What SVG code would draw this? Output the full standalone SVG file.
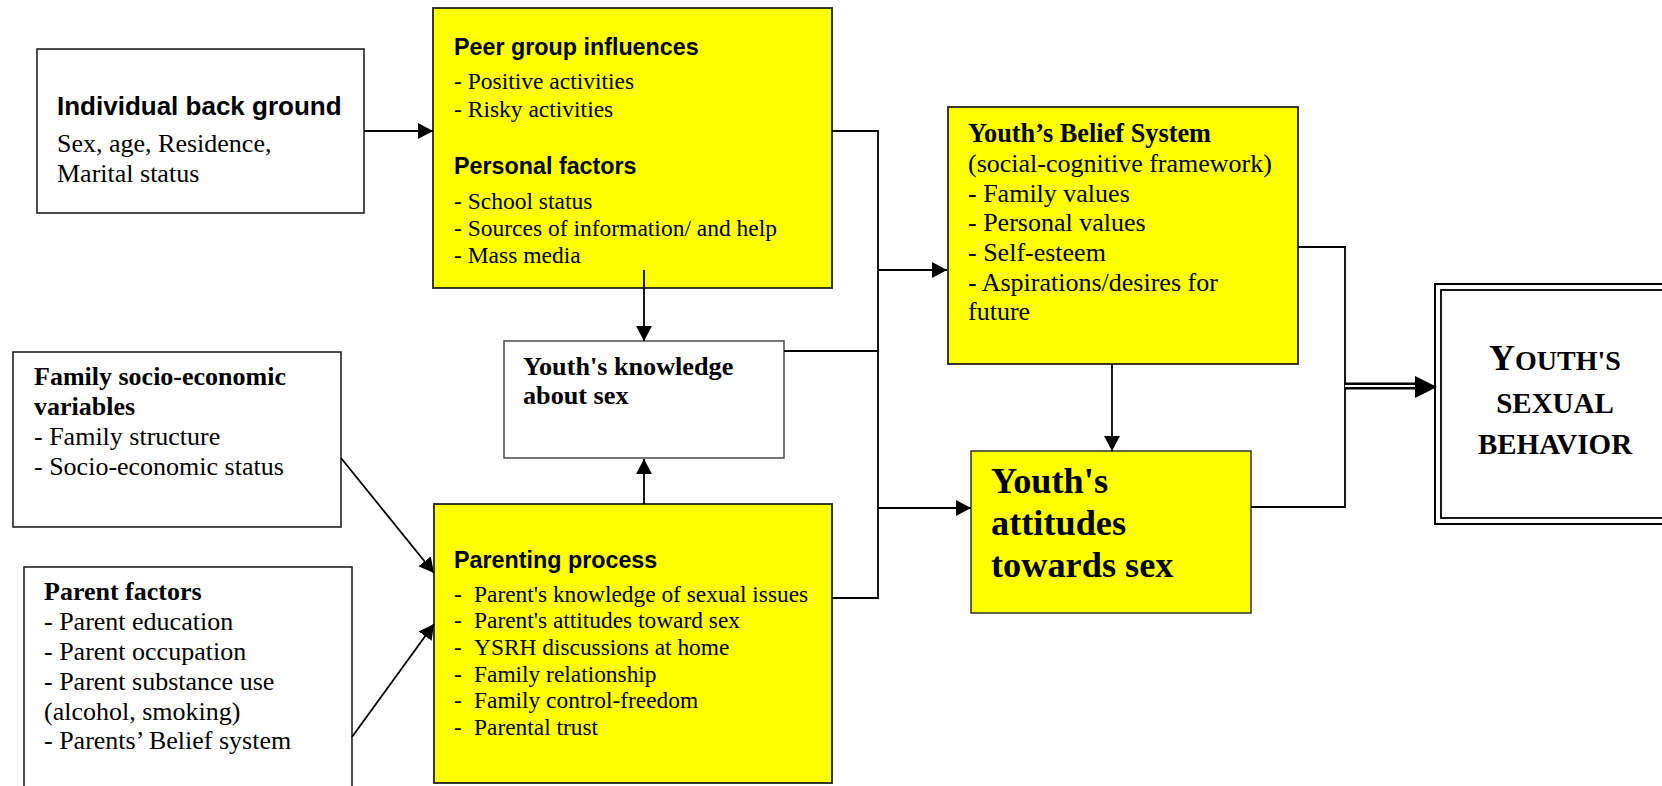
<svg xmlns="http://www.w3.org/2000/svg" width="1662" height="786" viewBox="0 0 1662 786">
<style>
.box{fill:#ffffff;stroke:#222;stroke-width:1.6}
.ybox{fill:#ffff00;stroke:#222;stroke-width:1.8}
.hs{font-family:"Liberation Sans",Arial,sans-serif;font-weight:bold;fill:#000}
.t{font-family:"Liberation Serif","Times New Roman",serif;fill:#000}
.b{font-weight:bold}
.ln{fill:none;stroke:#000;stroke-width:1.8}
</style>
<defs>
<marker id="ah" markerWidth="15" markerHeight="16" refX="15" refY="8" orient="auto" markerUnits="userSpaceOnUse">
<path d="M0,0 L15,8 L0,16 Z" fill="#000"/>
</marker>
</defs>
<rect width="1662" height="786" fill="#fff"/>

<g id="individual">
<rect class="box" x="37" y="49" width="327" height="164"/>
<text class="hs" x="57" y="115" font-size="26">Individual back ground</text>
<text class="t" x="57" y="152" font-size="26">Sex, age, Residence,</text>
<text class="t" x="57" y="182" font-size="26">Marital status</text>
</g>

<g id="peer">
<rect class="ybox" x="433" y="8" width="399" height="280"/>
<text class="hs" x="454" y="55" font-size="23.3">Peer group influences</text>
<text class="t" x="454" y="89" font-size="23.5">- Positive activities</text>
<text class="t" x="454" y="117" font-size="23.5">- Risky activities</text>
<text class="hs" x="454" y="174" font-size="23.3">Personal factors</text>
<text class="t" x="454" y="209" font-size="23.5">- School status</text>
<text class="t" x="454" y="236" font-size="23.5">- Sources of information/ and help</text>
<text class="t" x="454" y="263" font-size="23.5">- Mass media</text>
</g>

<g id="knowledge">
<rect class="box" x="504" y="341" width="280" height="117" style="stroke:#555"/>
<text class="t b" x="523" y="375" font-size="26.2">Youth's knowledge</text>
<text class="t b" x="523" y="404" font-size="26.2">about sex</text>
</g>

<g id="family">
<rect class="box" x="13" y="352" width="328" height="175"/>
<text class="t b" x="34" y="385" font-size="26">Family socio-economic</text>
<text class="t b" x="34" y="415" font-size="26">variables</text>
<text class="t" x="34" y="445" font-size="26">- Family structure</text>
<text class="t" x="34" y="475" font-size="26">- Socio-economic status</text>
</g>

<g id="parent">
<rect class="box" x="24" y="567" width="328" height="240"/>
<text class="t b" x="44" y="600" font-size="26">Parent factors</text>
<text class="t" x="44" y="630" font-size="26">- Parent education</text>
<text class="t" x="44" y="660" font-size="26">- Parent occupation</text>
<text class="t" x="44" y="690" font-size="26">- Parent substance use</text>
<text class="t" x="44" y="720" font-size="26">(alcohol, smoking)</text>
<text class="t" x="44" y="749" font-size="26">- Parents’ Belief system</text>
</g>

<g id="parenting">
<rect class="ybox" x="434" y="504" width="398" height="279"/>
<text class="hs" x="454" y="568" font-size="23.3">Parenting process</text>
<g class="t" font-size="23.4">
<text x="454" y="602">-</text><text x="474" y="602">Parent's knowledge of sexual issues</text>
<text x="454" y="628">-</text><text x="474" y="628">Parent's attitudes toward sex</text>
<text x="454" y="655">-</text><text x="474" y="655">YSRH discussions at home</text>
<text x="454" y="682">-</text><text x="474" y="682">Family relationship</text>
<text x="454" y="708">-</text><text x="474" y="708">Family control-freedom</text>
<text x="454" y="735">-</text><text x="474" y="735">Parental trust</text>
</g>
</g>

<g id="belief">
<rect class="ybox" x="948" y="107" width="350" height="257"/>
<text class="t b" x="968" y="142" font-size="26.3">Youth’s Belief System</text>
<text class="t" x="968" y="172" font-size="26">(social-cognitive framework)</text>
<text class="t" x="968" y="202" font-size="26">- Family values</text>
<text class="t" x="968" y="231" font-size="26">- Personal values</text>
<text class="t" x="968" y="261" font-size="26">- Self-esteem</text>
<text class="t" x="968" y="291" font-size="26">- Aspirations/desires for</text>
<text class="t" x="968" y="320" font-size="26">future</text>
</g>

<g id="attitudes">
<rect class="ybox" x="971" y="451" width="280" height="162" style="stroke-width:1.4"/>
<text class="t b" x="991" y="493" font-size="36.3">Youth's</text>
<text class="t b" x="991" y="535" font-size="36.3">attitudes</text>
<text class="t b" x="991" y="577" font-size="36.3">towards sex</text>
</g>

<g id="behavior">
<rect x="1435" y="284" width="260" height="240" fill="#fff" stroke="#000" stroke-width="2"/>
<rect x="1441" y="290" width="250" height="228" fill="none" stroke="#000" stroke-width="1.8"/>
<text class="t b" x="1555" y="370" font-size="28" text-anchor="middle"><tspan font-size="36">Y</tspan>OUTH'S</text>
<text class="t b" x="1555" y="413" font-size="29" text-anchor="middle">SEXUAL</text>
<text class="t b" x="1555" y="454" font-size="29" text-anchor="middle">BEHAVIOR</text>
</g>

<g id="connectors">
<line class="ln" x1="364" y1="131" x2="433" y2="131" marker-end="url(#ah)"/>
<line class="ln" x1="644" y1="270" x2="644" y2="341" marker-end="url(#ah)"/>
<line class="ln" x1="644" y1="504" x2="644" y2="459" marker-end="url(#ah)"/>
<line class="ln" x1="341" y1="458" x2="434" y2="573" marker-end="url(#ah)"/>
<line class="ln" x1="352" y1="737" x2="434" y2="624" marker-end="url(#ah)"/>
<polyline class="ln" points="832,131 878,131 878,598 832,598"/>
<line class="ln" x1="784" y1="351" x2="878" y2="351"/>
<line class="ln" x1="878" y1="270" x2="947" y2="270" marker-end="url(#ah)"/>
<line class="ln" x1="878" y1="508" x2="971" y2="508" marker-end="url(#ah)"/>
<line class="ln" x1="1112" y1="364" x2="1112" y2="451" marker-end="url(#ah)"/>
<polyline class="ln" points="1298,247 1345,247 1345,507 1251,507"/>
<line x1="1345" y1="386" x2="1418" y2="386" stroke="#000" stroke-width="7"/>
<line x1="1345" y1="386" x2="1418" y2="386" stroke="#fff" stroke-width="2"/>
<path d="M1415,376 L1437,387 L1415,398 Z" fill="#000"/>
</g>
</svg>
